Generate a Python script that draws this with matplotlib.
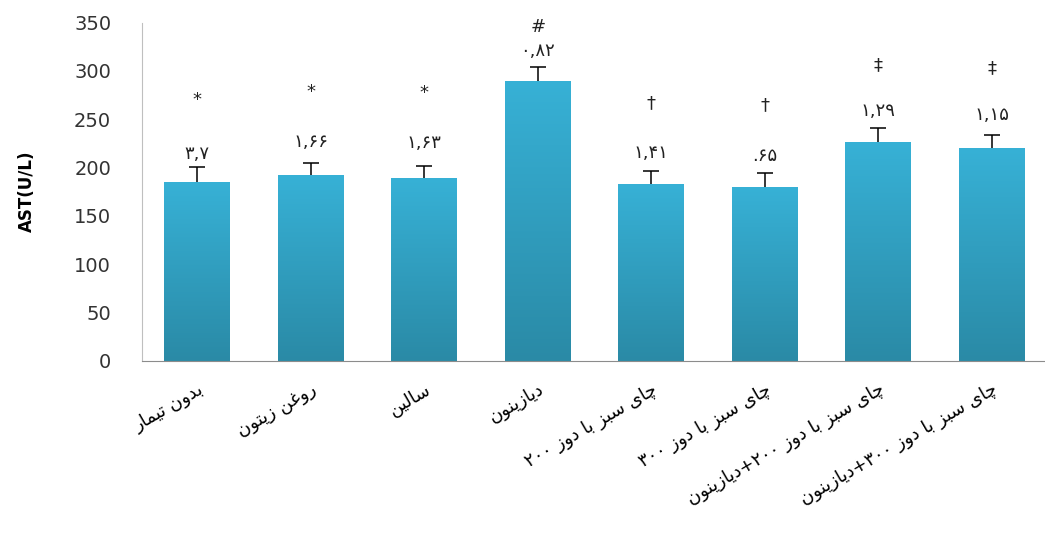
import re
import numpy as np
import matplotlib
matplotlib.use("Agg")
import matplotlib.pyplot as plt
from matplotlib.colors import LinearSegmentedColormap

# group names (logical Persian order)
groups = [
    "بدون تیمار",
    "روغن زیتون",
    "سالین",
    "دیازینون",
    "چای سبز با دوز ۲۰۰",
    "چای سبز با دوز ۳۰۰",
    "چای سبز با دوز ۲۰۰+دیازینون",
    "چای سبز با دوز ۳۰۰+دیازینون",
]
ast_mean = [185, 192, 189, 290, 183, 180, 226, 220]
ast_err = [15, 13, 12.5, 14, 13.5, 14, 15, 14]
value_text = ["۳,۷", "۱,۶۶", "۱,۶۳", "۰,۸۲", "۱,۴۱", ".۶۵", "۱,۲۹", "۱,۱۵"]
signif = ["*", "*", "*", "#", "†", "†", "‡", "‡"]

# layout: how far above the error bar the two annotations sit
value_gap = [14, 21, 24, 17, 18, 18, 17, 20]
signif_gap = [70, 73, 76, 41, 70, 71, 65, 69]

# presentation forms: isolated, final, initial, medial (None = no left join)
FORMS = {
    "ا": ("\uFE8D", "\uFE8E", None, None),
    "ب": ("\uFE8F", "\uFE90", "\uFE91", "\uFE92"),
    "ت": ("\uFE95", "\uFE96", "\uFE97", "\uFE98"),
    "د": ("\uFEA9", "\uFEAA", None, None),
    "ر": ("\uFEAD", "\uFEAE", None, None),
    "ز": ("\uFEAF", "\uFEB0", None, None),
    "س": ("\uFEB1", "\uFEB2", "\uFEB3", "\uFEB4"),
    "غ": ("\uFECD", "\uFECE", "\uFECF", "\uFED0"),
    "ل": ("\uFEDD", "\uFEDE", "\uFEDF", "\uFEE0"),
    "م": ("\uFEE1", "\uFEE2", "\uFEE3", "\uFEE4"),
    "ن": ("\uFEE5", "\uFEE6", "\uFEE7", "\uFEE8"),
    "و": ("\uFEED", "\uFEEE", None, None),
    "چ": ("\uFB7A", "\uFB7B", "\uFB7C", "\uFB7D"),
    "ی": ("\uFBFC", "\uFBFD", "\uFBFE", "\uFBFF"),
}


def rtl(s):
    # join letters, then flip to visual order keeping digit runs LTR
    out = []
    for i, c in enumerate(s):
        if c not in FORMS:
            out.append(c)
            continue
        prev = s[i - 1] if i > 0 else ""
        nxt = s[i + 1] if i + 1 < len(s) else ""
        jp = prev in FORMS and FORMS[prev][2] is not None
        jn = FORMS[c][2] is not None and nxt in FORMS
        iso, fin, ini, med = FORMS[c]
        if jp and jn:
            out.append(med)
        elif jp:
            out.append(fin)
        elif jn:
            out.append(ini)
        else:
            out.append(iso)
    vis = "".join(out)[::-1]
    return re.sub(r"[۰-۹0-9]+", lambda m: m.group(0)[::-1], vis)


plt.rcParams["font.family"] = ["DejaVu Sans"]

fig = plt.figure(figsize=(10.45, 5.39), dpi=100)
ax = fig.add_axes([0.1356, 0.331, 0.8644, 0.627])

x = np.arange(len(groups))
w = 0.58
cmap = LinearSegmentedColormap.from_list("bar", ["#2a8aa6", "#37b1d6"])
grad = np.linspace(0, 1, 256).reshape(-1, 1)

bars = ax.bar(x, ast_mean, w, color="none", edgecolor="none", zorder=2)
for b in bars:
    x0 = b.get_x()
    im = ax.imshow(grad, extent=[x0, x0 + b.get_width(), 0, b.get_height()],
                   origin="lower", aspect="auto", cmap=cmap, zorder=2)
    im.set_clip_path(b)

# upper error only: stem + cap
tops = np.array(ast_mean) + np.array(ast_err)
ax.vlines(x, ast_mean, tops, color="black", lw=1.1, zorder=3)
ax.plot(x, tops, ls="none", marker="_", ms=12, mew=1.1, color="black", zorder=3)

for i in range(len(x)):
    ax.text(x[i], tops[i] + value_gap[i], value_text[i], ha="center", va="center",
            fontsize=13, color="#222222")
    ax.text(x[i], tops[i] + signif_gap[i], signif[i], ha="center", va="center",
            fontsize=13, color="#222222")

ax.set_xlim(-0.49, 7.47)
ax.set_ylim(0, 350)
ax.set_yticks(np.arange(0, 351, 50))
ax.tick_params(axis="y", length=0, pad=22, labelsize=14, labelcolor="#333333")
ax.set_xticks(x)
ax.set_xticklabels([rtl(g) for g in groups], rotation=30, ha="right",
                   rotation_mode="anchor", fontsize=13)
ax.tick_params(axis="x", length=0, pad=14)

ax.spines["top"].set_visible(False)
ax.spines["right"].set_visible(False)
ax.spines["left"].set_color("#bfbfbf")
ax.spines["bottom"].set_color("#8c8c8c")

ax.set_ylabel("AST(U/L)", fontsize=12, fontweight="bold")
ax.yaxis.set_label_coords(-0.117, 0.5)

fig.savefig("out.png", dpi=100)
